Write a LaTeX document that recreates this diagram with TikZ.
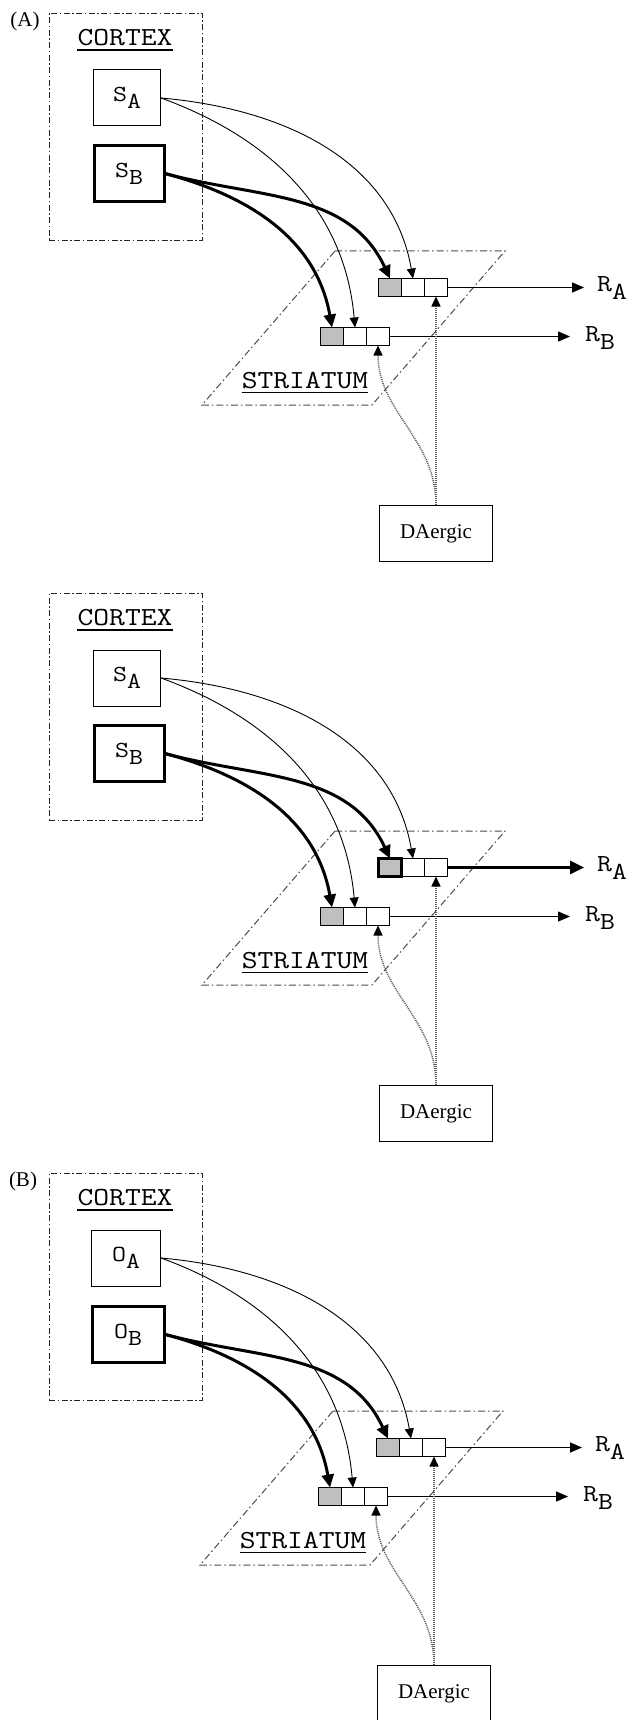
\documentclass[tikz,border=0pt]{standalone}
\usepackage{fontspec}
\setmainfont{Liberation Serif}
\usetikzlibrary{arrows.meta,positioning}
\newcommand{\cw}[1]{\scalebox{1.18}[1]{#1}}
\newcommand{\idx}[2]{\cw{#1\raisebox{-0.3em}{#2}}}
\tikzset{
  ctxbox/.style={draw=black!85, line width=0.9pt, dash pattern=on 6pt off 2.5pt on 1.5pt off 2.5pt},
  stzone/.style={draw=black!70, line width=1pt, dash pattern=on 7pt off 3pt on 1.5pt off 3pt},
  hdrtext/.style={inner sep=0pt, font=\ttfamily\fontsize{26}{30}\selectfont},
  srcbox/.style={draw, line width=1pt, minimum width=67pt, minimum height=56pt, font=\ttfamily\fontsize{23}{26}\selectfont},
  hotbox/.style={line width=3pt},
  cellbox/.style={draw, line width=1pt, outer sep=0pt, inner sep=0pt, minimum width=23pt, minimum height=18pt},
  resptext/.style={anchor=west, inner sep=0pt, font=\ttfamily\fontsize{24.5}{28}\selectfont},
  panellabel/.style={inner sep=0pt, font=\fontsize{21}{24}\selectfont},
  dabox/.style={draw, line width=1.2pt, minimum width=113pt, minimum height=56pt, font=\fontsize{21}{24}\selectfont},
  weakarr/.style={line width=0.9pt, -{Triangle[length=10pt,width=9pt]}},
  heavyarr/.style={line width=3pt, -{Triangle[length=13pt,width=12pt]}},
  emitarr/.style={line width=1.5pt, -{Triangle[length=12pt,width=10pt]}},
  emithot/.style={line width=3pt, -{Triangle[length=14pt,width=13pt]}},
  dopa/.style={draw=black!65, line width=1.5pt, dash pattern=on 1pt off 1pt, -{Triangle[length=10pt,width=9pt,color=black]}},
  uline/.style={line width=1.6pt}
}
\begin{document}
\begin{tikzpicture}[x=1pt,y=1pt]
    \useasboundingbox (0,0) rectangle (632,-1720);

    % (A), first row
    \node[panellabel] (lbl1) at (25,-21) {(A)};
    \node[ctxbox, minimum width=153pt, minimum height=227pt] (ctx1) at (125.5,-126.5) {};
    \node[hdrtext] (ctxh1) at (125,-38) {\cw{CORTEX}};
    \draw[uline] ([yshift=-4.3pt]ctxh1.base west) -- ([yshift=-4.3pt]ctxh1.base east);
    \node[srcbox] (sa1) at (127,-98) {\idx{S}{A}};
    \node[srcbox, hotbox, minimum width=70pt] (sb1) at (129.2,-173.7) {\idx{S}{B}};
    \draw[stzone] (335,-251) -- (505,-251) -- (372,-405) -- (202,-405) -- cycle;
    \node[hdrtext] (sth1) at (305,-380.5) {\cw{STRIATUM}};
    \draw[uline] ([yshift=-4pt]sth1.base west) -- ([yshift=-4pt]sth1.base east);
    \node[cellbox, fill=black!25] (u1a) at (390,-287.5) {};
    \node[cellbox, right=0pt of u1a] (u1b) {};
    \node[cellbox, right=0pt of u1b] (u1c) {};
    \node[cellbox, fill=black!25] (l1a) at (332,-336.5) {};
    \node[cellbox, right=0pt of l1a] (l1b) {};
    \node[cellbox, right=0pt of l1b] (l1c) {};
    \node[resptext] (ra1) at (597,-288) {\idx{R}{A}};
    \node[resptext] (rb1) at (585,-338) {\idx{R}{B}};
    \node[dabox] (da1) at (436,-533.5) {DAergic};
    \draw[weakarr] (sa1.east) to[out=-5,in=100] (u1b.north);
    \draw[weakarr] (sa1.east) to[out=-20,in=95] (l1b.north);
    \draw[heavyarr] (sb1.east) to[out=-15,in=115] (u1a.north);
    \draw[heavyarr] (sb1.east) to[out=-15,in=100] (l1a.north);
    \draw[emitarr, shorten >=13pt] (u1c.east) -- (u1c.east -| ra1.west);
    \draw[emitarr, shorten >=15pt] (l1c.east) -- (l1c.east -| rb1.west);
    \draw[dopa] (da1.north) -- (u1c.south);
    \draw[dopa] (da1.north) to[out=90,in=-90] (l1c.south);

    % second row, response A strengthened
    \begin{scope}[yshift=-580pt]
    \node[ctxbox, minimum width=153pt, minimum height=227pt] (ctx2) at (125.5,-126.5) {};
    \node[hdrtext] (ctxh2) at (125,-38) {\cw{CORTEX}};
    \draw[uline] ([yshift=-4.3pt]ctxh2.base west) -- ([yshift=-4.3pt]ctxh2.base east);
    \node[srcbox] (sa2) at (127,-98) {\idx{S}{A}};
    \node[srcbox, hotbox, minimum width=70pt] (sb2) at (129.2,-173.7) {\idx{S}{B}};
    \draw[stzone] (335,-251) -- (505,-251) -- (372,-405) -- (202,-405) -- cycle;
    \node[hdrtext] (sth2) at (305,-380.5) {\cw{STRIATUM}};
    \draw[uline] ([yshift=-4pt]sth2.base west) -- ([yshift=-4pt]sth2.base east);
    \node[cellbox, fill=black!25] (u2a) at (390,-287.5) {};
    \node[cellbox, right=0pt of u2a] (u2b) {};
    \node[cellbox, right=0pt of u2b] (u2c) {};
    \node[cellbox, hotbox, fill=black!25] at (u2a) {};
    \node[cellbox, fill=black!25] (l2a) at (332,-336.5) {};
    \node[cellbox, right=0pt of l2a] (l2b) {};
    \node[cellbox, right=0pt of l2b] (l2c) {};
    \node[resptext] (ra2) at (597,-288) {\idx{R}{A}};
    \node[resptext] (rb2) at (585,-338) {\idx{R}{B}};
    \node[dabox] (da2) at (436,-533.5) {DAergic};
    \draw[weakarr] (sa2.east) to[out=-5,in=100] (u2b.north);
    \draw[weakarr] (sa2.east) to[out=-20,in=95] (l2b.north);
    \draw[heavyarr] (sb2.east) to[out=-15,in=115] (u2a.north);
    \draw[heavyarr] (sb2.east) to[out=-15,in=100] (l2a.north);
    \draw[emithot, shorten >=13pt] (u2c.east) -- (u2c.east -| ra2.west);
    \draw[emitarr, line width=1pt, shorten >=15pt] (l2c.east) -- (l2c.east -| rb2.west);
    \draw[dopa] (da2.north) -- (u2c.south);
    \draw[dopa] (da2.north) to[out=90,in=-90] (l2c.south);
    \end{scope}

    % (B), outcomes
    \begin{scope}[xshift=-2pt, yshift=-1160pt]
    \node[panellabel] (lbl3) at (25,-21) {(B)};
    \node[ctxbox, minimum width=153pt, minimum height=227pt] (ctx3) at (127.5,-126.5) {};
    \node[hdrtext] (ctxh3) at (127,-38) {\cw{CORTEX}};
    \draw[uline] ([yshift=-4.3pt]ctxh3.base west) -- ([yshift=-4.3pt]ctxh3.base east);
    \node[srcbox, minimum width=69pt] (oa3) at (128,-98) {\idx{O}{A}};
    \node[srcbox, hotbox, minimum width=72pt] (ob3) at (130,-174.5) {\idx{O}{B}};
    \draw[stzone] (335,-251) -- (505,-251) -- (372,-405) -- (202,-405) -- cycle;
    \node[hdrtext] (sth3) at (305,-380.5) {\cw{STRIATUM}};
    \draw[uline] ([yshift=-4pt]sth3.base west) -- ([yshift=-4pt]sth3.base east);
    \node[cellbox, fill=black!25] (u3a) at (390,-287.5) {};
    \node[cellbox, right=0pt of u3a] (u3b) {};
    \node[cellbox, right=0pt of u3b] (u3c) {};
    \node[cellbox, fill=black!25] (l3a) at (332,-336.5) {};
    \node[cellbox, right=0pt of l3a] (l3b) {};
    \node[cellbox, right=0pt of l3b] (l3c) {};
    \node[resptext] (ra3) at (597,-288) {\idx{R}{A}};
    \node[resptext] (rb3) at (585,-338) {\idx{R}{B}};
    \node[dabox] (da3) at (436,-533.5) {DAergic};
    \draw[weakarr] (oa3.east) to[out=-5,in=100] (u3b.north);
    \draw[weakarr] (oa3.east) to[out=-20,in=95] (l3b.north);
    \draw[heavyarr] (ob3.east) to[out=-15,in=115] (u3a.north);
    \draw[heavyarr] (ob3.east) to[out=-15,in=100] (l3a.north);
    \draw[emitarr, shorten >=13pt] (u3c.east) -- (u3c.east -| ra3.west);
    \draw[emitarr, shorten >=15pt] (l3c.east) -- (l3c.east -| rb3.west);
    \draw[dopa] (da3.north) -- (u3c.south);
    \draw[dopa] (da3.north) to[out=90,in=-90] (l3c.south);
    \end{scope}
\end{tikzpicture}
\end{document}
